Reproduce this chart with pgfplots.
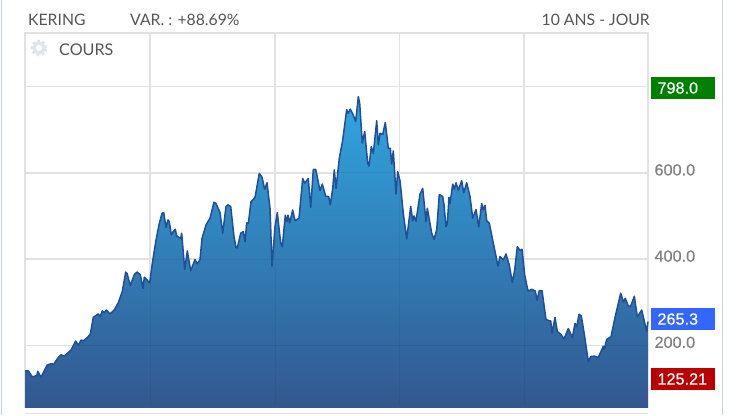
\documentclass[border=0pt]{standalone}
\usepackage{fontspec}
\setmainfont{Lato}
\newfontfamily\numfont[BoldFont={Liberation Sans},BoldFeatures={FakeBold=0.35}]{Liberation Sans}
\usepackage{pgfplots}
\usepackage{pgfplotstable}
\pgfplotsset{compat=1.18}
\definecolor{gridc}{HTML}{E2E2E2}
\definecolor{linec}{HTML}{1E4F98}
\definecolor{areatop}{HTML}{30A6E0}
\definecolor{areabot}{HTML}{33578F}
\definecolor{txt}{HTML}{555555}
\definecolor{tick}{HTML}{808080}
\definecolor{sidec}{HTML}{C6D2E2}
\definecolor{gear}{HTML}{DFE5EC}
\definecolor{boxgreen}{HTML}{008000}
\definecolor{boxblue}{HTML}{3366FF}
\definecolor{boxred}{HTML}{BB0000}

% x = horizontal position on the 10 year span, y = share price
\pgfplotstableread{
x y
25.0 141
28.3 141
32.3 127
37.0 130
37.7 140
41.0 126
47.0 154
51.7 158
53.3 155
59.0 174
61.0 178
64.3 175
71.0 189
75.7 210
78.3 200
81.0 212
83.7 211
87.7 219
90.3 226
93.3 265
98.3 273
100.3 267
102.3 280
104.3 276
106.3 282
110.0 273
114.3 282
118.3 299
122.3 325
125.7 370
127.0 367
130.3 339
134.3 364
137.0 370
140.3 364
143.0 332
144.3 358
149.7 345
152.3 390
156.0 444
159.3 483
162.0 506
163.7 508
166.0 474
168.0 491
169.3 487
171.3 456
173.3 464
175.3 469
176.7 454
180.7 448
181.7 460
184.7 376
187.3 419
190.7 373
195.0 399
197.3 389
200.0 399
202.0 448
206.0 479
210.0 495
214.0 532
216.0 529
220.0 508
222.7 460
226.0 522
228.0 526
230.7 522
234.0 452
236.0 427
237.3 426
240.7 460
243.3 464
245.0 440
246.7 484
248.3 483
251.0 533
255.0 543
259.3 599
262.0 590
264.7 562
267.0 577
270.0 518
272.0 384
275.0 475
277.3 508
280.7 437
282.3 429
285.3 502
287.0 487
288.0 502
289.7 484
292.7 514
295.0 489
299.0 495
302.7 587
304.7 576
308.3 587
310.7 520
313.3 608
315.7 608
320.0 559
322.3 574
325.7 546
328.7 545
330.3 526
332.7 564
334.3 607
336.0 564
339.3 634
342.7 676
346.7 747
348.0 738
350.3 748
353.3 734
355.7 719
358.3 777
359.7 761
362.3 669
364.7 696
367.7 622
369.0 616
371.3 661
373.3 645
376.7 721
378.3 665
380.0 692
382.7 689
385.3 717
388.3 657
390.3 657
391.7 621
393.3 651
396.0 551
397.7 603
400.0 582
403.3 506
406.7 447
410.7 522
412.7 489
414.0 500
416.0 488
420.0 551
422.7 564
426.0 487
427.3 518
431.7 460
434.0 446
436.7 468
439.3 550
442.7 545
444.0 526
446.0 475
447.3 483
449.0 543
450.0 529
452.7 574
454.3 562
456.0 577
458.3 560
461.7 582
463.7 554
466.7 577
470.0 545
472.7 495
476.0 515
478.7 475
481.7 529
483.3 514
485.0 525
486.7 489
489.3 483
491.3 460
494.0 429
498.0 384
500.0 406
503.3 398
506.0 412
509.3 386
512.3 346
514.7 375
517.3 429
520.0 420
522.0 423
524.7 363
528.0 326
531.7 330
535.3 326
537.0 305
539.3 327
542.0 327
546.0 260
549.3 257
550.7 257
552.0 228
555.0 265
557.3 232
560.7 226
564.0 215
568.3 239
572.3 218
575.0 251
576.7 243
579.0 272
581.3 268
584.7 220
588.3 162
590.7 174
594.0 175
598.3 172
603.3 198
604.3 191
606.7 214
611.0 220
615.0 265
620.7 321
623.3 301
625.3 309
628.3 291
630.7 291
634.3 314
637.3 266
641.7 282
644.0 259
646.7 232
648.0 255
}\cours

\tikzset{valbox/.style={anchor=west,text=white,inner sep=0pt,minimum width=64.5bp,minimum height=22.5bp,text width=60bp,align=left,font=\numfont\bfseries\fontsize{16.3}{18}\selectfont}}

\begin{document}
\begin{tikzpicture}[x=1bp,y=1bp]
\path[use as bounding box] (0,0) rectangle (739,415);
% page side rules
\draw[sidec,line width=1bp] (1.5,0) -- (1.5,415);
\draw[sidec,line width=1bp] (722.5,0) -- (722.5,415);
% separator under the pane
\draw[gridc,line width=1.3bp] (25,1.3) -- (648,1.3);
\begin{axis}[
    at={(25bp,8bp)},
    anchor=south west,
    scale only axis,
    width=623bp,
    height=374bp,
    xmin=25, xmax=648,
    ymin=57, ymax=924.5,
    xtick={150,275,399.5,524},
    xticklabels={},
    ytick={200,400,600,800},
    yticklabels={200.0,400.0,600.0,},
    yticklabel pos=right,
    major tick length=0pt,
    grid=major,
    grid style={gridc,line width=1.4bp},
    axis line style={gridc,line width=1.4bp},
    yticklabel style={font=\numfont\bfseries\fontsize{16.3}{18}\selectfont,text=tick,anchor=west,xshift=3bp,yshift=3bp},
    clip=false,
    after end axis/.code={
        \draw[areabot,line width=1.4bp] (axis cs:25,57) -- (axis cs:648,57);
    },
]
\addplot[draw=none,top color=areatop,bottom color=areabot] table[x=x,y=y] {\cours} \closedcycle;
% grid faintly visible through the area
\begin{scope}[black,opacity=.05,line width=1bp]
\draw (axis cs:150,57) -- (axis cs:150,345);
\draw (axis cs:275,57) -- (axis cs:275,475);
\draw (axis cs:399.5,57) -- (axis cs:399.5,582);
\draw (axis cs:524,57) -- (axis cs:524,363);
\draw (axis cs:76,200) -- (axis cs:586,200);
\draw (axis cs:601,200) -- (axis cs:647,200);
\draw (axis cs:152,400) -- (axis cs:184,400);
\draw (axis cs:201,400) -- (axis cs:270,400);
\draw (axis cs:274,400) -- (axis cs:497,400);
\draw (axis cs:513,400) -- (axis cs:525,400);
\draw (axis cs:334,600) -- (axis cs:397,600);
\end{scope}
\addplot[linec,line width=1.5bp,line join=round] table[x=x,y=y] {\cours};
% last, high and low boxes
\node[valbox,fill=boxgreen] at (axis cs:650.5,797) {\hspace*{4.5bp}798.0};
\node[valbox,fill=boxblue] at (axis cs:650.5,261) {\hspace*{4.5bp}265.3};
\node[valbox,fill=boxred] at (axis cs:650.5,122) {\hspace*{4.5bp}125.21};
\end{axis}
% header texts
\node[anchor=base west,inner sep=0pt,text=txt,font=\fontsize{15.8}{17}\selectfont] at (28,389) {KERING};
\node[anchor=base west,inner sep=0pt,text=txt,font=\fontsize{15.8}{17}\selectfont] at (130,389) {VAR. : +88.69\%};
\node[anchor=base east,inner sep=0pt,text=txt,font=\fontsize{15.8}{17}\selectfont] at (650,389) {10 ANS - JOUR};
\node[anchor=base west,inner sep=0pt,text=txt,font=\fontsize{16.2}{17}\selectfont] at (59,360) {COURS};
% settings icon
\draw[gear,line width=3.5bp] (39,367) circle (5bp);
\draw[gear,line width=2.5bp,dash pattern=on 2.6bp off 2.6bp] (39,367) circle (7.2bp);
\end{tikzpicture}
\end{document}
